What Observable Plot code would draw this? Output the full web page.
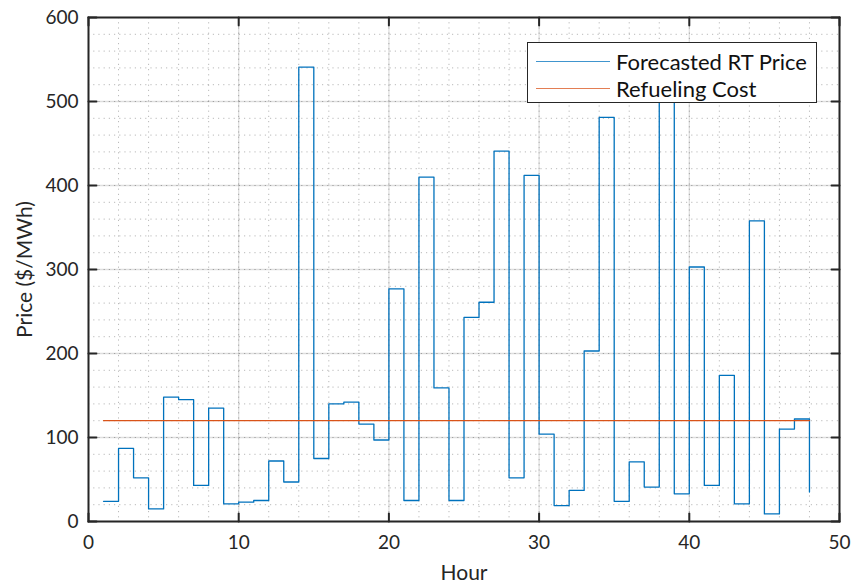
<!DOCTYPE html>
<html><head><meta charset="utf-8">
<script src="https://cdn.jsdelivr.net/npm/d3@7"></script>
<script src="https://cdn.jsdelivr.net/npm/@observablehq/plot@0.6"></script>
<style>
body{margin:0;background:#fff;}
#wrap{position:relative;width:854px;height:583px;font-family:Lato,sans-serif;color:#111;}
#legend{position:absolute;left:527px;top:42px;width:288px;height:59px;border:1px solid #262626;background:#fff;}
.row{position:absolute;left:0;height:26px;display:flex;align-items:center;font-size:22px;white-space:nowrap;}
.sw{width:74px;height:0;margin-left:8px;margin-right:6px;}
</style></head>
<body><div id="wrap"></div>
<script>
const hours = [1,2,3,4,5,6,7,8,9,10,11,12,13,14,15,16,17,18,19,20,21,22,23,24,25,26,27,28,29,30,31,32,33,34,35,36,37,38,39,40,41,42,43,44,45,46,47,48];
const prices = [24,87,52,15,148,145,43,135,21,23,25,72,47,541,75,140,142,116,97,277,25,410,159,25,243,261,441,52,412,104,19,37,203,481,24,71,41,560,33,303,43,174,21,358,9,110,122,35];
const refuelCost = 120;
const xTicks = [0,10,20,30,40,50];
const yTicks = [0,100,200,300,400,500,600];
const seriesNames = ["Forecasted RT Price","Refueling Cost"];
const colors = ["#0072BD","#D95319"];

const priceData = hours.map((h,i)=>({hour:h, price:prices[i]}));
const refuelData = [{hour:hours[0], price:refuelCost},{hour:hours[hours.length-1], price:refuelCost}];
const xMinor = d3.range(0,51,2);
const yMinor = d3.range(0,601,20);
const emptyFmt = () => "";
const tickShape = {draw(ctx, l){ ctx.moveTo(0,0); ctx.lineTo(0,-l); }};
const xMin = 0, xMax = 50, yMin = 0, yMax = 600;
const tickOpts = {length: 8, anchor: "start", shape: tickShape, stroke: "#262626", strokeWidth: 2};

const chart = Plot.plot({
  width: 854, height: 583,
  marginLeft: 88, marginRight: 15, marginTop: 17, marginBottom: 62,
  style: {fontFamily: "Lato, sans-serif", fontSize: "19px", color: "#262626", background: "white", overflow: "visible"},
  x: {domain: [xMin, xMax]},
  y: {domain: [yMin, yMax]},
  marks: [
    Plot.gridX(xMinor, {stroke: "#000", strokeOpacity: 0.28, strokeDasharray: "1.2,4", strokeWidth: 1}),
    Plot.gridY(yMinor, {stroke: "#000", strokeOpacity: 0.28, strokeDasharray: "1.2,4", strokeWidth: 1}),
    Plot.gridX(xTicks, {stroke: "#000", strokeOpacity: 0.13, strokeWidth: 1.3}),
    Plot.gridY(yTicks, {stroke: "#000", strokeOpacity: 0.13, strokeWidth: 1.3}),
    Plot.line(priceData, {x: "hour", y: "price", curve: "step-after", stroke: colors[0], strokeWidth: 1.3}),
    Plot.line(refuelData, {x: "hour", y: "price", stroke: colors[1], strokeWidth: 1.3}),
    Plot.axisX(xTicks, {anchor: "bottom", tickSize: 0, tickPadding: 14, label: null, fontSize: 19}),
    Plot.axisX(xTicks, {anchor: "bottom", tickSize: 0, tickFormat: emptyFmt, label: "Hour", labelAnchor: "center", labelOffset: 58, labelArrow: "none", fontSize: 21}),
    Plot.axisY(yTicks, {anchor: "left", tickSize: 0, tickPadding: 10, label: null, fontSize: 19}),
    Plot.axisY(yTicks, {anchor: "left", tickSize: 0, tickFormat: emptyFmt, label: "Price ($/MWh)", labelAnchor: "center", labelOffset: 71, labelArrow: "none", fontSize: 21}),
    Plot.vector(xTicks, {x: d => d, y: yMin, rotate: 0, ...tickOpts}),
    Plot.vector(xTicks, {x: d => d, y: yMax, rotate: 180, ...tickOpts}),
    Plot.vector(yTicks, {x: xMin, y: d => d, rotate: 90, ...tickOpts}),
    Plot.vector(yTicks, {x: xMax, y: d => d, rotate: -90, ...tickOpts}),
    Plot.frame({stroke: "#262626", strokeWidth: 2})
  ]
});
const wrap = document.getElementById("wrap");
wrap.appendChild(chart);

const legend = document.createElement("div");
legend.id = "legend";
seriesNames.forEach((name, i) => {
  const row = document.createElement("div");
  row.className = "row";
  row.style.top = (5 + i*27) + "px";
  const sw = document.createElement("div");
  sw.className = "sw";
  sw.style.borderTop = "1.6px solid " + colors[i];
  sw.style.opacity = "0.75";
  const tx = document.createElement("span");
  tx.textContent = name;
  row.appendChild(sw); row.appendChild(tx);
  legend.appendChild(row);
});
wrap.appendChild(legend);
</script></body></html>
